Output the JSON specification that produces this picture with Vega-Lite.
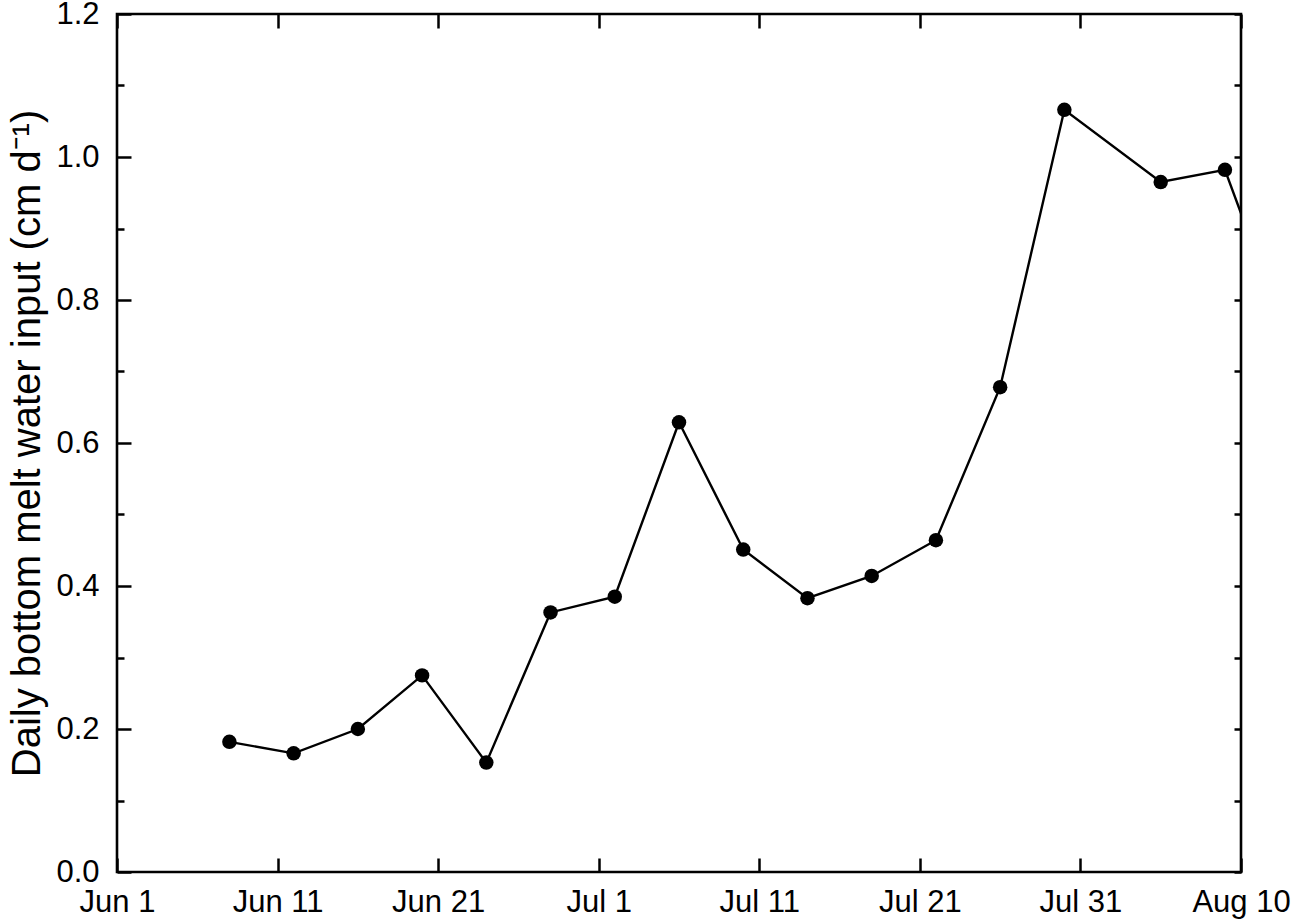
{
  "$schema": "https://vega.github.io/schema/vega-lite/v6.json",
  "width": 1124,
  "height": 858,
  "autosize": {"type": "none"},
  "padding": {"left": 117, "top": 14, "right": 50, "bottom": 50},
  "background": "white",
  "config": {
    "view": {"stroke": "black", "strokeWidth": 2.6},
    "axis": {
      "labelFont": "Liberation Sans",
      "titleFont": "Liberation Sans",
      "labelColor": "black",
      "titleColor": "black",
      "tickColor": "black",
      "tickWidth": 2.5,
      "domain": false,
      "grid": false
    }
  },
  "data": {
    "values": [
      {"date": "2016-06-08", "melt": 0.182},
      {"date": "2016-06-12", "melt": 0.166},
      {"date": "2016-06-16", "melt": 0.200},
      {"date": "2016-06-20", "melt": 0.275},
      {"date": "2016-06-24", "melt": 0.153},
      {"date": "2016-06-28", "melt": 0.363},
      {"date": "2016-07-02", "melt": 0.385},
      {"date": "2016-07-06", "melt": 0.629},
      {"date": "2016-07-10", "melt": 0.451},
      {"date": "2016-07-14", "melt": 0.383},
      {"date": "2016-07-18", "melt": 0.414},
      {"date": "2016-07-22", "melt": 0.464},
      {"date": "2016-07-26", "melt": 0.678},
      {"date": "2016-07-30", "melt": 1.066},
      {"date": "2016-08-05", "melt": 0.965},
      {"date": "2016-08-09", "melt": 0.982},
      {"date": "2016-08-13", "melt": 0.739}
    ]
  },
  "layer": [
    {
      "mark": {"type": "line", "color": "black", "strokeWidth": 2.4, "clip": true},
      "encoding": {
        "x": {
          "field": "date",
          "type": "temporal",
          "scale": {
            "type": "utc",
            "domain": [
              {"year": 2016, "month": 6, "date": 1, "utc": true},
              {"year": 2016, "month": 8, "date": 10, "utc": true}
            ]
          },
          "axis": {
            "orient": "bottom",
            "values": [
              {"year": 2016, "month": 6, "date": 1, "utc": true},
              {"year": 2016, "month": 6, "date": 11, "utc": true},
              {"year": 2016, "month": 6, "date": 21, "utc": true},
              {"year": 2016, "month": 7, "date": 1, "utc": true},
              {"year": 2016, "month": 7, "date": 11, "utc": true},
              {"year": 2016, "month": 7, "date": 21, "utc": true},
              {"year": 2016, "month": 7, "date": 31, "utc": true},
              {"year": 2016, "month": 8, "date": 10, "utc": true}
            ],
            "format": "%b %-d",
            "tickSize": -14,
            "labelPadding": 29,
            "labelFontSize": 31,
            "labelFlush": false,
            "labelOverlap": false,
            "labelBound": false,
            "title": null
          }
        },
        "y": {
          "field": "melt",
          "type": "quantitative",
          "scale": {"domain": [0, 1.2], "nice": false, "zero": false},
          "axis": {
            "orient": "left",
            "values": [0, 0.1, 0.2, 0.3, 0.4, 0.5, 0.6, 0.7, 0.8, 0.9, 1.0, 1.1, 1.2],
            "labelExpr": "round(datum.value*10) % 2 == 0 ? format(datum.value, '.1f') : ''",
            "tickSize": {"condition": {"test": "round(datum.value*10) % 2 == 0", "value": -14}, "value": -7},
            "labelPadding": 32,
            "labelFontSize": 31,
            "labelOverlap": false,
            "labelFlush": false,
            "labelBound": false,
            "title": "Daily bottom melt water input (cm d⁻¹)",
            "titleFontSize": 40,
            "titleFontWeight": "normal",
            "titlePadding": 8
          }
        }
      }
    },
    {
      "mark": {"type": "point", "filled": true, "color": "black", "size": 210, "opacity": 1, "clip": true},
      "encoding": {
        "x": {
          "field": "date",
          "type": "temporal",
          "axis": {
            "orient": "top",
            "values": [
              {"year": 2016, "month": 6, "date": 1, "utc": true},
              {"year": 2016, "month": 6, "date": 11, "utc": true},
              {"year": 2016, "month": 6, "date": 21, "utc": true},
              {"year": 2016, "month": 7, "date": 1, "utc": true},
              {"year": 2016, "month": 7, "date": 11, "utc": true},
              {"year": 2016, "month": 7, "date": 21, "utc": true},
              {"year": 2016, "month": 7, "date": 31, "utc": true},
              {"year": 2016, "month": 8, "date": 10, "utc": true}
            ],
            "tickSize": -14,
            "labels": false,
            "title": null
          }
        },
        "y": {
          "field": "melt",
          "type": "quantitative",
          "axis": {
            "orient": "right",
            "values": [0, 0.1, 0.2, 0.3, 0.4, 0.5, 0.6, 0.7, 0.8, 0.9, 1.0, 1.1, 1.2],
            "tickSize": -7,
            "labels": false,
            "title": null
          }
        }
      }
    }
  ],
  "resolve": {"axis": {"x": "independent", "y": "independent"}}
}
